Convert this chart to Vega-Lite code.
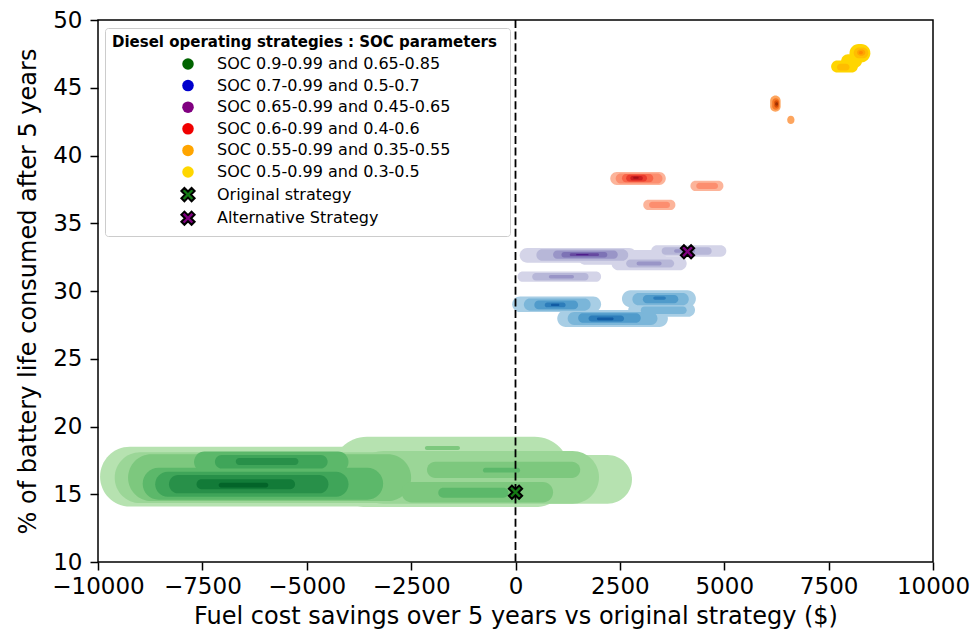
{
  "$schema": "https://vega.github.io/schema/vega-lite/v6.json",
  "width": 835,
  "height": 542,
  "autosize": {"type": "none"},
  "padding": {"left": 98, "top": 20, "right": 39, "bottom": 78},
  "background": "white",
  "config": {
    "font": "DejaVu Sans",
    "view": {"stroke": "black", "strokeWidth": 1.5},
    "axis": {
      "domain": false,
      "grid": false,
      "ticks": true,
      "tickColor": "black",
      "tickWidth": 1.5,
      "tickSize": 8,
      "labelFont": "DejaVu Sans",
      "labelFontSize": 23,
      "labelColor": "black",
      "titleFont": "DejaVu Sans",
      "titleFontSize": 24,
      "titleFontWeight": "normal",
      "titleColor": "black"
    },
    "axisX": {"labelPadding": 5, "titlePadding": 6, "labelFlush": false},
    "axisY": {"labelPadding": 8, "titlePadding": 12},
    "legend": {
      "orient": "none",
      "legendX": 7,
      "legendY": 8,
      "padding": 7,
      "strokeColor": "#cccccc",
      "fillColor": "rgba(255,255,255,0.85)",
      "cornerRadius": 3,
      "titleFont": "DejaVu Sans",
      "titleFontWeight": "bold",
      "titleFontSize": 15,
      "titleColor": "black",
      "titlePadding": 6,
      "titleLimit": 1000,
      "labelFont": "DejaVu Sans",
      "labelFontSize": 16,
      "labelColor": "black",
      "labelLimit": 1000,
      "symbolOffset": 68,
      "labelOffset": 21,
      "rowPadding": 1.6,
      "symbolSize": 133,
      "symbolStrokeWidth": 2,
      "symbolOpacity": 1
    }
  },
  "datasets": {
    "kde": [
      {"g": "green", "level": 0, "x1": -9950, "x2": 1000, "y1": 14.1, "y2": 18.5},
      {"g": "green", "level": 0, "x1": -4400, "x2": 1300, "y1": 14.05, "y2": 19.25},
      {"g": "green", "level": 0, "x1": -800, "x2": 2790, "y1": 14.3, "y2": 17.9},
      {"g": "green", "level": 1, "x1": -9600, "x2": -300, "y1": 14.35, "y2": 18.1},
      {"g": "green", "level": 1, "x1": -3800, "x2": 2000, "y1": 14.3, "y2": 18.2},
      {"g": "green", "level": 2, "x1": -9280, "x2": -2500, "y1": 14.5, "y2": 17.95},
      {"g": "green", "level": 2, "x1": -2730, "x2": 900, "y1": 14.4, "y2": 15.9},
      {"g": "green", "level": 2, "x1": -2120, "x2": 1550, "y1": 16.2, "y2": 17.4},
      {"g": "green", "level": 2, "x1": -2170, "x2": -1330, "y1": 18.27, "y2": 18.56},
      {"g": "green", "level": 3, "x1": -8930, "x2": -3170, "y1": 14.6, "y2": 16.95},
      {"g": "green", "level": 3, "x1": -7700, "x2": -4000, "y1": 16.6, "y2": 18.15},
      {"g": "green", "level": 3, "x1": -1850, "x2": -170, "y1": 14.75, "y2": 15.48},
      {"g": "green", "level": 3, "x1": -780, "x2": 110, "y1": 16.6, "y2": 16.95},
      {"g": "green", "level": 4, "x1": -8630, "x2": -4000, "y1": 14.82, "y2": 16.66},
      {"g": "green", "level": 4, "x1": -7200, "x2": -4500, "y1": 16.9, "y2": 17.9},
      {"g": "green", "level": 5, "x1": -8300, "x2": -4480, "y1": 15.07, "y2": 16.42},
      {"g": "green", "level": 5, "x1": -6700, "x2": -5200, "y1": 17.16, "y2": 17.67},
      {"g": "green", "level": 6, "x1": -7640, "x2": -5280, "y1": 15.37, "y2": 16.1},
      {"g": "green", "level": 7, "x1": -7110, "x2": -5920, "y1": 15.5, "y2": 15.85},

      {"g": "blue", "level": 0, "x1": -80, "x2": 2050, "y1": 28.45, "y2": 29.6},
      {"g": "blue", "level": 0, "x1": 1000, "x2": 3650, "y1": 27.35, "y2": 28.6},
      {"g": "blue", "level": 0, "x1": 2550, "x2": 4320, "y1": 28.8, "y2": 30.05},
      {"g": "blue", "level": 0, "x1": 2700, "x2": 4300, "y1": 28.1, "y2": 29.1},
      {"g": "blue", "level": 1, "x1": 200, "x2": 1800, "y1": 28.55, "y2": 29.45},
      {"g": "blue", "level": 1, "x1": 1250, "x2": 3400, "y1": 27.5, "y2": 28.45},
      {"g": "blue", "level": 1, "x1": 2800, "x2": 4150, "y1": 28.95, "y2": 29.85},
      {"g": "blue", "level": 1, "x1": 3000, "x2": 4100, "y1": 28.3, "y2": 28.85},
      {"g": "blue", "level": 2, "x1": 450, "x2": 1500, "y1": 28.65, "y2": 29.3},
      {"g": "blue", "level": 2, "x1": 1500, "x2": 3000, "y1": 27.65, "y2": 28.35},
      {"g": "blue", "level": 2, "x1": 3050, "x2": 3900, "y1": 29.1, "y2": 29.7},
      {"g": "blue", "level": 3, "x1": 700, "x2": 1200, "y1": 28.8, "y2": 29.15},
      {"g": "blue", "level": 3, "x1": 1750, "x2": 2600, "y1": 27.75, "y2": 28.2},
      {"g": "blue", "level": 3, "x1": 3300, "x2": 3600, "y1": 29.35, "y2": 29.6},
      {"g": "blue", "level": 4, "x1": 850, "x2": 1050, "y1": 28.9, "y2": 29.05},
      {"g": "blue", "level": 4, "x1": 1950, "x2": 2350, "y1": 27.85, "y2": 28.05},

      {"g": "purple", "level": 0, "x1": 100, "x2": 2900, "y1": 32.08, "y2": 33.18},
      {"g": "purple", "level": 0, "x1": 2300, "x2": 4100, "y1": 31.53, "y2": 32.53},
      {"g": "purple", "level": 0, "x1": 3250, "x2": 5050, "y1": 32.53, "y2": 33.38},
      {"g": "purple", "level": 0, "x1": 50, "x2": 2050, "y1": 30.68, "y2": 31.43},
      {"g": "purple", "level": 0, "x1": 1500, "x2": 3600, "y1": 31.93, "y2": 33.03},
      {"g": "purple", "level": 1, "x1": 500, "x2": 2700, "y1": 32.23, "y2": 33.08},
      {"g": "purple", "level": 1, "x1": 2650, "x2": 3800, "y1": 31.73, "y2": 32.33},
      {"g": "purple", "level": 1, "x1": 3500, "x2": 4700, "y1": 32.68, "y2": 33.23},
      {"g": "purple", "level": 1, "x1": 400, "x2": 1750, "y1": 30.78, "y2": 31.33},
      {"g": "purple", "level": 2, "x1": 900, "x2": 2450, "y1": 32.38, "y2": 32.98},
      {"g": "purple", "level": 2, "x1": 2900, "x2": 3500, "y1": 31.88, "y2": 32.18},
      {"g": "purple", "level": 2, "x1": 3800, "x2": 4300, "y1": 32.83, "y2": 33.08},
      {"g": "purple", "level": 2, "x1": 800, "x2": 1400, "y1": 30.93, "y2": 31.18},
      {"g": "purple", "level": 3, "x1": 1100, "x2": 2200, "y1": 32.48, "y2": 32.88},
      {"g": "purple", "level": 4, "x1": 1300, "x2": 2000, "y1": 32.58, "y2": 32.78},
      {"g": "purple", "level": 5, "x1": 1450, "x2": 1750, "y1": 32.63, "y2": 32.73},

      {"g": "red", "level": 0, "x1": 2270, "x2": 3600, "y1": 37.83, "y2": 38.78},
      {"g": "red", "level": 0, "x1": 4190, "x2": 4980, "y1": 37.38, "y2": 38.13},
      {"g": "red", "level": 0, "x1": 3060, "x2": 3830, "y1": 35.98, "y2": 36.73},
      {"g": "red", "level": 1, "x1": 2400, "x2": 3520, "y1": 37.93, "y2": 38.68},
      {"g": "red", "level": 1, "x1": 4330, "x2": 4850, "y1": 37.53, "y2": 37.98},
      {"g": "red", "level": 1, "x1": 3200, "x2": 3700, "y1": 36.13, "y2": 36.58},
      {"g": "red", "level": 2, "x1": 2550, "x2": 3300, "y1": 38.03, "y2": 38.63},
      {"g": "red", "level": 3, "x1": 2650, "x2": 3150, "y1": 38.08, "y2": 38.58},
      {"g": "red", "level": 4, "x1": 2750, "x2": 3050, "y1": 38.18, "y2": 38.48},
      {"g": "red", "level": 5, "x1": 2820, "x2": 2950, "y1": 38.28, "y2": 38.43},

      {"g": "orange", "level": 0, "x1": 6100, "x2": 6350, "y1": 43.23, "y2": 44.43},
      {"g": "orange", "level": 0, "x1": 6510, "x2": 6680, "y1": 42.33, "y2": 42.93},
      {"g": "orange", "level": 1, "x1": 6150, "x2": 6320, "y1": 43.38, "y2": 44.23},
      {"g": "orange", "level": 2, "x1": 6200, "x2": 6300, "y1": 43.53, "y2": 44.08},
      {"g": "orange", "level": 3, "x1": 6220, "x2": 6290, "y1": 43.68, "y2": 43.93},

      {"g": "yellow", "level": 0, "x1": 7560, "x2": 8200, "y1": 46.12, "y2": 47.02},
      {"g": "yellow", "level": 0, "x1": 8000, "x2": 8500, "y1": 46.87, "y2": 48.22},
      {"g": "yellow", "level": 0, "x1": 7800, "x2": 8300, "y1": 46.47, "y2": 47.47},
      {"g": "yellow", "level": 1, "x1": 8100, "x2": 8450, "y1": 47.17, "y2": 47.97},
      {"g": "yellow", "level": 1, "x1": 7700, "x2": 8000, "y1": 46.27, "y2": 46.77},
      {"g": "yellow", "level": 2, "x1": 8180, "x2": 8380, "y1": 47.37, "y2": 47.82},
      {"g": "yellow", "level": 3, "x1": 8220, "x2": 8320, "y1": 47.47, "y2": 47.72}
    ],
    "markers": [
      {"series": "Original strategy", "x1": 0, "y1": 15.15},
      {"series": "Alternative Strategy", "x1": 4120, "y1": 32.9}
    ],
    "zero": [{"x1": 0}]
  },
  "layer": [
    {
      "data": {"name": "kde"},
      "transform": [{"filter": "datum.g == 'green'"}],
      "mark": {"type": "rect", "cornerRadius": 999},
      "encoding": {
        "x": {"field": "x1", "type": "quantitative", "scale": {"domain": [-10000, 10000], "nice": false, "zero": false},
              "axis": {"title": "Fuel cost savings over 5 years vs original strategy ($)", "values": [-10000, -7500, -5000, -2500, 0, 2500, 5000, 7500, 10000], "format": "d"}},
        "x2": {"field": "x2"},
        "y": {"field": "y1", "type": "quantitative", "scale": {"domain": [10, 50], "nice": false, "zero": false},
              "axis": {"title": "% of battery life consumed after 5 years", "values": [10, 15, 20, 25, 30, 35, 40, 45, 50], "format": "d"}},
        "y2": {"field": "y2"},
        "fill": {"field": "level", "type": "quantitative", "scale": {"scheme": {"name": "greens", "extent": [0.15, 1]}, "domain": [0, 7]}, "legend": null}
      }
    },
    {
      "data": {"name": "kde"},
      "transform": [{"filter": "datum.g == 'blue'"}],
      "mark": {"type": "rect", "cornerRadius": 999},
      "encoding": {
        "x": {"field": "x1", "type": "quantitative", "scale": {"domain": [-10000, 10000], "nice": false, "zero": false},
              "axis": {"title": "Fuel cost savings over 5 years vs original strategy ($)", "values": [-10000, -7500, -5000, -2500, 0, 2500, 5000, 7500, 10000], "format": "d"}},
        "x2": {"field": "x2"},
        "y": {"field": "y1", "type": "quantitative", "scale": {"domain": [10, 50], "nice": false, "zero": false},
              "axis": {"title": "% of battery life consumed after 5 years", "values": [10, 15, 20, 25, 30, 35, 40, 45, 50], "format": "d"}},
        "y2": {"field": "y2"},
        "fill": {"field": "level", "type": "quantitative", "scale": {"scheme": {"name": "blues", "extent": [0.2, 0.9]}, "domain": [0, 4]}, "legend": null}
      }
    },
    {
      "data": {"name": "kde"},
      "transform": [{"filter": "datum.g == 'purple'"}],
      "mark": {"type": "rect", "cornerRadius": 999},
      "encoding": {
        "x": {"field": "x1", "type": "quantitative", "scale": {"domain": [-10000, 10000], "nice": false, "zero": false},
              "axis": {"title": "Fuel cost savings over 5 years vs original strategy ($)", "values": [-10000, -7500, -5000, -2500, 0, 2500, 5000, 7500, 10000], "format": "d"}},
        "x2": {"field": "x2"},
        "y": {"field": "y1", "type": "quantitative", "scale": {"domain": [10, 50], "nice": false, "zero": false},
              "axis": {"title": "% of battery life consumed after 5 years", "values": [10, 15, 20, 25, 30, 35, 40, 45, 50], "format": "d"}},
        "y2": {"field": "y2"},
        "fill": {"field": "level", "type": "quantitative", "scale": {"scheme": {"name": "purples", "extent": [0.1, 1]}, "domain": [0, 5]}, "legend": null}
      }
    },
    {
      "data": {"name": "kde"},
      "transform": [{"filter": "datum.g == 'red'"}],
      "mark": {"type": "rect", "cornerRadius": 999},
      "encoding": {
        "x": {"field": "x1", "type": "quantitative", "scale": {"domain": [-10000, 10000], "nice": false, "zero": false},
              "axis": {"title": "Fuel cost savings over 5 years vs original strategy ($)", "values": [-10000, -7500, -5000, -2500, 0, 2500, 5000, 7500, 10000], "format": "d"}},
        "x2": {"field": "x2"},
        "y": {"field": "y1", "type": "quantitative", "scale": {"domain": [10, 50], "nice": false, "zero": false},
              "axis": {"title": "% of battery life consumed after 5 years", "values": [10, 15, 20, 25, 30, 35, 40, 45, 50], "format": "d"}},
        "y2": {"field": "y2"},
        "fill": {"field": "level", "type": "quantitative", "scale": {"scheme": {"name": "reds", "extent": [0.1, 0.95]}, "domain": [0, 5]}, "legend": null}
      }
    },
    {
      "data": {"name": "kde"},
      "transform": [{"filter": "datum.g == 'orange'"}],
      "mark": {"type": "rect", "cornerRadius": 999},
      "encoding": {
        "x": {"field": "x1", "type": "quantitative", "scale": {"domain": [-10000, 10000], "nice": false, "zero": false},
              "axis": {"title": "Fuel cost savings over 5 years vs original strategy ($)", "values": [-10000, -7500, -5000, -2500, 0, 2500, 5000, 7500, 10000], "format": "d"}},
        "x2": {"field": "x2"},
        "y": {"field": "y1", "type": "quantitative", "scale": {"domain": [10, 50], "nice": false, "zero": false},
              "axis": {"title": "% of battery life consumed after 5 years", "values": [10, 15, 20, 25, 30, 35, 40, 45, 50], "format": "d"}},
        "y2": {"field": "y2"},
        "fill": {"field": "level", "type": "quantitative", "scale": {"scheme": {"name": "oranges", "extent": [0.3, 1]}, "domain": [0, 3]}, "legend": null}
      }
    },
    {
      "data": {"name": "kde"},
      "transform": [{"filter": "datum.g == 'yellow'"}],
      "mark": {"type": "rect", "cornerRadius": 999},
      "encoding": {
        "x": {"field": "x1", "type": "quantitative", "scale": {"domain": [-10000, 10000], "nice": false, "zero": false},
              "axis": {"title": "Fuel cost savings over 5 years vs original strategy ($)", "values": [-10000, -7500, -5000, -2500, 0, 2500, 5000, 7500, 10000], "format": "d"}},
        "x2": {"field": "x2"},
        "y": {"field": "y1", "type": "quantitative", "scale": {"domain": [10, 50], "nice": false, "zero": false},
              "axis": {"title": "% of battery life consumed after 5 years", "values": [10, 15, 20, 25, 30, 35, 40, 45, 50], "format": "d"}},
        "y2": {"field": "y2"},
        "fill": {"field": "level", "type": "quantitative", "scale": {"range": ["#ffd500", "#ff8a00"], "domain": [0, 3]}, "legend": null}
      }
    },
    {
      "data": {"name": "zero"},
      "mark": {"type": "rule", "color": "black", "strokeWidth": 1.8, "strokeDash": [8, 3.6]},
      "encoding": {
        "x": {"field": "x1", "type": "quantitative", "scale": {"domain": [-10000, 10000], "nice": false, "zero": false},
              "axis": {"title": "Fuel cost savings over 5 years vs original strategy ($)", "values": [-10000, -7500, -5000, -2500, 0, 2500, 5000, 7500, 10000], "format": "d"}}
      }
    },
    {
      "data": {"name": "markers"},
      "mark": {"type": "point", "filled": true, "strokeWidth": 2, "size": 133, "opacity": 1},
      "encoding": {
        "x": {"field": "x1", "type": "quantitative", "scale": {"domain": [-10000, 10000], "nice": false, "zero": false},
              "axis": {"title": "Fuel cost savings over 5 years vs original strategy ($)", "values": [-10000, -7500, -5000, -2500, 0, 2500, 5000, 7500, 10000], "format": "d"}},
        "y": {"field": "y1", "type": "quantitative", "scale": {"domain": [10, 50], "nice": false, "zero": false},
              "axis": {"title": "% of battery life consumed after 5 years", "values": [10, 15, 20, 25, 30, 35, 40, 45, 50], "format": "d"}},
        "color": {
          "field": "series", "type": "nominal",
          "scale": {
            "domain": ["SOC 0.9-0.99 and 0.65-0.85", "SOC 0.7-0.99 and 0.5-0.7", "SOC 0.65-0.99 and 0.45-0.65", "SOC 0.6-0.99 and 0.4-0.6", "SOC 0.55-0.99 and 0.35-0.55", "SOC 0.5-0.99 and 0.3-0.5", "Original strategy", "Alternative Strategy"],
            "range": ["#006400", "#0000cd", "#800080", "#f00000", "#ffa500", "#ffd700", "#147a14", "#800080"]
          },
          "legend": {"title": "Diesel operating strategies :  SOC parameters"}
        },
        "stroke": {
          "field": "series", "type": "nominal",
          "scale": {
            "domain": ["SOC 0.9-0.99 and 0.65-0.85", "SOC 0.7-0.99 and 0.5-0.7", "SOC 0.65-0.99 and 0.45-0.65", "SOC 0.6-0.99 and 0.4-0.6", "SOC 0.55-0.99 and 0.35-0.55", "SOC 0.5-0.99 and 0.3-0.5", "Original strategy", "Alternative Strategy"],
            "range": ["transparent", "transparent", "transparent", "transparent", "transparent", "transparent", "black", "black"]
          },
          "legend": {"title": "Diesel operating strategies :  SOC parameters"}
        },
        "shape": {
          "field": "series", "type": "nominal",
          "scale": {
            "domain": ["SOC 0.9-0.99 and 0.65-0.85", "SOC 0.7-0.99 and 0.5-0.7", "SOC 0.65-0.99 and 0.45-0.65", "SOC 0.6-0.99 and 0.4-0.6", "SOC 0.55-0.99 and 0.35-0.55", "SOC 0.5-0.99 and 0.3-0.5", "Original strategy", "Alternative Strategy"],
            "range": ["circle", "circle", "circle", "circle", "circle", "circle",
                      "M-1.15,-0.62L-0.62,-1.15L0,-0.53L0.62,-1.15L1.15,-0.62L0.53,0L1.15,0.62L0.62,1.15L0,0.53L-0.62,1.15L-1.15,0.62L-0.53,0Z",
                      "M-1.15,-0.62L-0.62,-1.15L0,-0.53L0.62,-1.15L1.15,-0.62L0.53,0L1.15,0.62L0.62,1.15L0,0.53L-0.62,1.15L-1.15,0.62L-0.53,0Z"]
          },
          "legend": {"title": "Diesel operating strategies :  SOC parameters"}
        }
      }
    }
  ],
  "resolve": {"scale": {"fill": "independent"}}
}
